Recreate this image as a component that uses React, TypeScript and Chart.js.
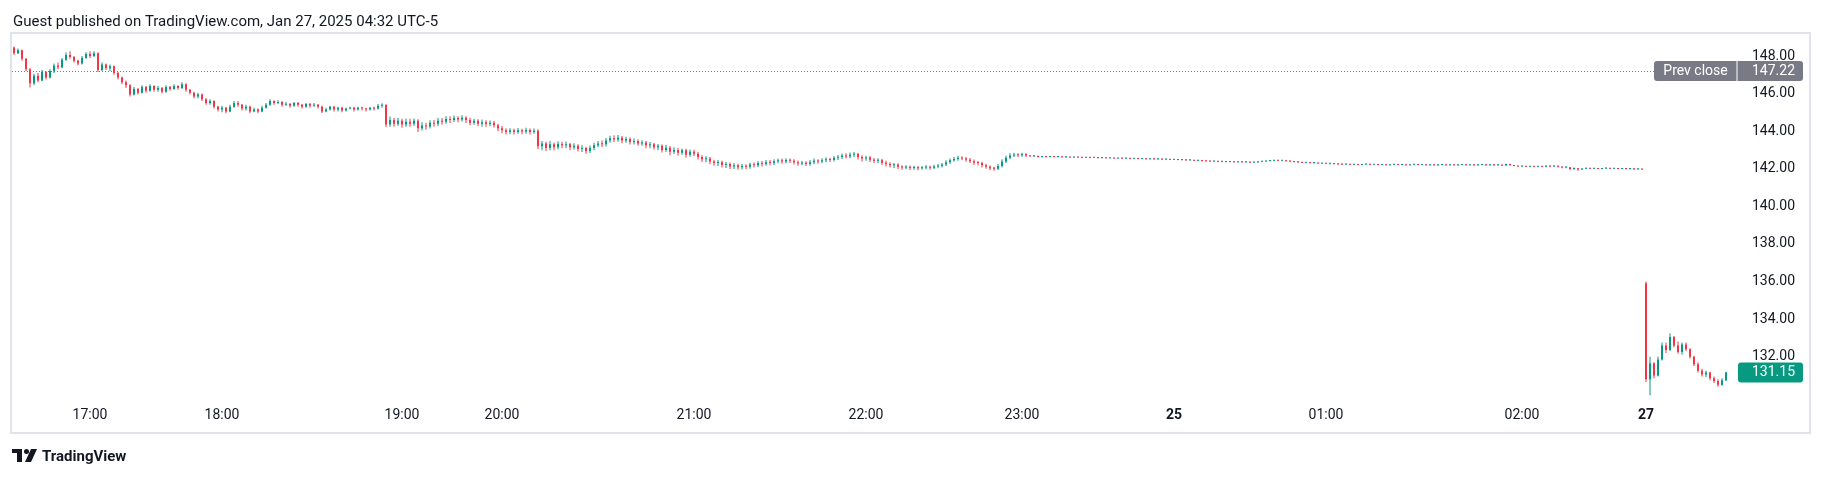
import { useEffect, useRef } from "react";
import { Chart, registerables } from "chart.js";

Chart.register(...registerables);

// ---- data (bar index = position on TradingView's compressed time axis) ----
const opens = [
  148.45, 148.15, 148.30, 147.85, 147.30, 146.55, 146.95, 146.70, 147.15, 146.85,
  147.20, 147.50, 147.40, 147.80, 148.05, 147.95, 147.75, 147.60, 147.90, 148.10,
  148.00, 148.15, 147.25, 147.55, 147.35, 147.45, 147.10, 146.85, 146.60, 146.45,
  145.95, 146.25, 146.05, 146.35, 146.15, 146.40, 146.20, 146.30, 146.10, 146.35,
  146.25, 146.40, 146.30, 146.50, 146.20, 146.05, 145.85, 145.95, 145.70, 145.50,
  145.60, 145.30, 145.15, 145.25, 145.05, 145.30, 145.50, 145.40, 145.20, 145.30,
  145.05, 145.15, 145.05, 145.25, 145.40, 145.60, 145.50, 145.55, 145.40, 145.45,
  145.35, 145.50, 145.40, 145.30, 145.45, 145.35, 145.40, 145.30, 145.05, 145.15,
  145.30, 145.15, 145.25, 145.10, 145.20, 145.25, 145.15, 145.25, 145.20, 145.15,
  145.25, 145.20, 145.35, 145.40, 144.35, 144.60, 144.40, 144.55, 144.35, 144.50,
  144.40, 144.55, 144.15, 144.30, 144.25, 144.45, 144.40, 144.55, 144.50, 144.65,
  144.60, 144.70, 144.62, 144.72, 144.60, 144.45, 144.55, 144.40, 144.48, 144.38,
  144.45, 144.32, 144.15, 144.05, 143.95, 144.05, 143.95, 144.05, 143.98, 144.06,
  143.95, 144.02, 143.20, 143.35, 143.10, 143.30, 143.15, 143.32, 143.25, 143.30,
  143.15, 143.22, 143.05, 143.10, 142.95, 143.10, 143.25, 143.35, 143.30, 143.50,
  143.62, 143.55, 143.65, 143.50, 143.58, 143.42, 143.48, 143.35, 143.40, 143.25,
  143.30, 143.15, 143.22, 143.00, 143.12, 142.90, 143.00, 142.85, 142.98, 142.75,
  142.90, 142.80, 142.62, 142.50, 142.55, 142.38, 142.30, 142.35, 142.20, 142.25,
  142.12, 142.18, 142.08, 142.15, 142.10, 142.22, 142.18, 142.30, 142.25, 142.35,
  142.30, 142.40, 142.45, 142.38, 142.46, 142.42, 142.35, 142.28, 142.32, 142.25,
  142.35, 142.42, 142.38, 142.45, 142.50, 142.46, 142.58, 142.62, 142.70, 142.65,
  142.75, 142.78, 142.62, 142.55, 142.60, 142.48, 142.42, 142.45, 142.32, 142.25,
  142.18, 142.22, 142.10, 142.06, 142.10, 142.04, 142.08, 142.02, 142.06, 142.10,
  142.05, 142.12, 142.15, 142.22, 142.35, 142.45, 142.52, 142.58, 142.55, 142.48,
  142.40, 142.32, 142.30, 142.18, 142.10, 142.02, 142.00, 142.15, 142.38, 142.58,
  142.70, 142.76, 142.72, 142.78, 142.70, 142.66, 142.68, 142.62, 142.65, 142.63,
  142.66, 142.62, 142.64, 142.61, 142.63, 142.60, 142.62, 142.60, 142.58, 142.61,
  142.59, 142.60, 142.57, 142.59, 142.56, 142.58, 142.55, 142.57, 142.55, 142.56,
  142.53, 142.55, 142.52, 142.54, 142.51, 142.53, 142.50, 142.52, 142.49, 142.51,
  142.48, 142.50, 142.47, 142.48, 142.45, 142.46, 142.43, 142.44, 142.41, 142.40,
  142.38, 142.40, 142.37, 142.39, 142.36, 142.38, 142.35, 142.37, 142.34, 142.36,
  142.33, 142.35, 142.37, 142.39, 142.41, 142.43, 142.44, 142.42, 142.43, 142.40,
  142.38, 142.36, 142.34, 142.32, 142.33, 142.30, 142.31, 142.28, 142.29, 142.26,
  142.27, 142.25, 142.24, 142.22, 142.24, 142.21, 142.23, 142.20, 142.22, 142.24,
  142.21, 142.23, 142.20, 142.22, 142.19, 142.21, 142.23, 142.20, 142.22, 142.19,
  142.21, 142.23, 142.20, 142.22, 142.19, 142.21, 142.18, 142.20, 142.22, 142.19,
  142.21, 142.18, 142.20, 142.22, 142.19, 142.21, 142.18, 142.20, 142.22, 142.19,
  142.21, 142.18, 142.20, 142.17, 142.25, 142.19, 142.15, 142.12, 142.14, 142.11,
  142.13, 142.10, 142.12, 142.10, 142.15, 142.12, 142.16, 142.11, 142.06, 142.08,
  141.98, 142.02, 141.96, 142.00, 142.03, 142.00, 142.02, 141.99, 142.01, 142.03,
  142.00, 142.02, 141.99, 142.01, 141.98, 142.00, 141.97, 141.99, 135.90, 130.80,
  131.65, 131.00, 131.85, 132.60, 132.35, 133.05, 132.60, 132.25, 132.65, 132.40,
  132.00, 131.60, 131.25, 131.05, 131.15, 130.85, 130.70, 130.50, 130.75,
];

const highs = [
  148.50, 148.40, 148.35, 147.90, 147.35, 147.05, 147.10, 147.25, 147.20, 147.30,
  147.60, 147.65, 147.90, 148.20, 148.25, 148.00, 147.80, 148.00, 148.20, 148.25,
  148.25, 148.20, 147.65, 147.60, 147.55, 147.50, 147.15, 146.90, 146.70, 146.50,
  146.35, 146.30, 146.45, 146.40, 146.50, 146.45, 146.40, 146.35, 146.45, 146.40,
  146.50, 146.45, 146.60, 146.55, 146.25, 146.10, 146.05, 146.00, 145.75, 145.70,
  145.65, 145.35, 145.35, 145.30, 145.40, 145.60, 145.60, 145.45, 145.40, 145.35,
  145.25, 145.20, 145.35, 145.50, 145.70, 145.65, 145.65, 145.60, 145.55, 145.50,
  145.55, 145.55, 145.45, 145.50, 145.50, 145.50, 145.45, 145.35, 145.25, 145.35,
  145.35, 145.30, 145.30, 145.25, 145.30, 145.30, 145.30, 145.30, 145.25, 145.30,
  145.30, 145.45, 145.48, 145.42, 144.78, 144.70, 144.72, 144.66, 144.68, 144.66,
  144.68, 144.63, 144.48, 144.45, 144.58, 144.60, 144.70, 144.70, 144.80, 144.80,
  144.84, 144.80, 144.85, 144.80, 144.72, 144.66, 144.63, 144.62, 144.58, 144.57,
  144.54, 144.40, 144.27, 144.16, 144.16, 144.13, 144.17, 144.13, 144.18, 144.14,
  144.14, 144.10, 143.48, 143.44, 143.47, 143.40, 143.46, 143.44, 143.45, 143.38,
  143.36, 143.30, 143.25, 143.17, 143.24, 143.38, 143.48, 143.50, 143.64, 143.76,
  143.78, 143.79, 143.74, 143.70, 143.66, 143.61, 143.57, 143.52, 143.48, 143.42,
  143.38, 143.32, 143.29, 143.26, 143.21, 143.14, 143.10, 143.08, 143.06, 143.03,
  143.01, 142.90, 142.72, 142.66, 142.63, 142.48, 142.46, 142.43, 142.36, 142.33,
  142.30, 142.26, 142.25, 142.24, 142.32, 142.33, 142.40, 142.41, 142.47, 142.46,
  142.51, 142.55, 142.54, 142.56, 142.55, 142.51, 142.44, 142.41, 142.40, 142.46,
  142.54, 142.51, 142.56, 142.61, 142.59, 142.68, 142.73, 142.81, 142.83, 142.86,
  142.89, 142.85, 142.72, 142.69, 142.68, 142.57, 142.56, 142.53, 142.42, 142.34,
  142.31, 142.29, 142.19, 142.18, 142.17, 142.16, 142.15, 142.14, 142.18, 142.16,
  142.21, 142.25, 142.31, 142.45, 142.55, 142.63, 142.69, 142.67, 142.63, 142.57,
  142.49, 142.41, 142.37, 142.27, 142.18, 142.11, 142.25, 142.50, 142.69, 142.82,
  142.85, 142.83, 142.85, 142.83, 142.72, 142.72, 142.70, 142.68, 142.67, 142.68,
  142.67, 142.66, 142.65, 142.65, 142.64, 142.64, 142.63, 142.62, 142.63, 142.62,
  142.62, 142.61, 142.61, 142.60, 142.60, 142.59, 142.59, 142.58, 142.58, 142.57,
  142.57, 142.56, 142.56, 142.55, 142.55, 142.54, 142.54, 142.53, 142.53, 142.52,
  142.52, 142.51, 142.50, 142.49, 142.48, 142.47, 142.46, 142.45, 142.43, 142.42,
  142.42, 142.41, 142.41, 142.40, 142.40, 142.39, 142.39, 142.38, 142.38, 142.37,
  142.37, 142.39, 142.41, 142.43, 142.45, 142.46, 142.46, 142.45, 142.44, 142.42,
  142.40, 142.38, 142.36, 142.35, 142.34, 142.33, 142.32, 142.31, 142.30, 142.29,
  142.28, 142.27, 142.26, 142.26, 142.25, 142.25, 142.24, 142.24, 142.26, 142.25,
  142.25, 142.24, 142.24, 142.23, 142.23, 142.25, 142.24, 142.24, 142.23, 142.23,
  142.25, 142.24, 142.24, 142.23, 142.23, 142.22, 142.22, 142.24, 142.23, 142.23,
  142.22, 142.22, 142.24, 142.23, 142.23, 142.22, 142.24, 142.25, 142.23, 142.24,
  142.22, 142.22, 142.21, 142.27, 142.26, 142.20, 142.16, 142.16, 142.15, 142.15,
  142.14, 142.14, 142.13, 142.18, 142.17, 142.18, 142.17, 142.12, 142.10, 142.09,
  142.06, 142.04, 142.03, 142.05, 142.04, 142.04, 142.03, 142.03, 142.05, 142.04,
  142.04, 142.03, 142.03, 142.02, 142.02, 142.01, 142.01, 142.00, 136.00, 132.00,
  131.70, 132.00, 132.75, 132.75, 133.25, 133.10, 132.80, 132.75, 132.75, 132.45,
  132.05, 131.70, 131.35, 131.25, 131.20, 130.95, 130.80, 130.85, 131.20,
];

const lows = [
  148.05, 148.10, 147.75, 147.20, 146.33, 146.45, 146.60, 146.65, 146.75, 146.80,
  147.10, 147.30, 147.35, 147.75, 147.85, 147.65, 147.50, 147.55, 147.85, 147.90,
  147.95, 147.15, 147.20, 147.25, 147.20, 147.00, 146.75, 146.50, 146.30, 145.85,
  145.90, 145.95, 146.00, 146.05, 146.10, 146.10, 146.10, 146.00, 146.05, 146.15,
  146.20, 146.20, 146.25, 146.10, 145.95, 145.75, 145.75, 145.60, 145.40, 145.40,
  145.20, 145.05, 145.00, 144.95, 145.00, 145.25, 145.30, 145.10, 145.10, 144.95,
  145.00, 144.95, 145.00, 145.20, 145.35, 145.40, 145.45, 145.30, 145.35, 145.25,
  145.30, 145.30, 145.20, 145.25, 145.25, 145.30, 145.20, 144.97, 145.00, 145.10,
  145.05, 145.05, 145.00, 145.05, 145.15, 145.05, 145.10, 145.10, 145.05, 145.10,
  145.10, 145.15, 145.25, 144.22, 144.24, 144.23, 144.29, 144.18, 144.24, 144.23,
  144.29, 143.95, 144.04, 144.08, 144.14, 144.24, 144.28, 144.34, 144.39, 144.44,
  144.49, 144.48, 144.52, 144.44, 144.31, 144.34, 144.26, 144.24, 144.23, 144.26,
  144.19, 143.99, 143.89, 143.82, 143.84, 143.82, 143.86, 143.84, 143.86, 143.82,
  143.86, 143.05, 142.99, 142.94, 142.99, 142.99, 143.04, 143.09, 143.09, 142.99,
  143.02, 142.92, 142.89, 142.80, 142.84, 142.99, 143.14, 143.16, 143.19, 143.39,
  143.42, 143.44, 143.36, 143.39, 143.29, 143.29, 143.22, 143.22, 143.09, 143.09,
  143.02, 142.99, 142.86, 142.89, 142.72, 142.79, 142.69, 142.74, 142.59, 142.64,
  142.66, 142.49, 142.36, 142.34, 142.24, 142.16, 142.14, 142.06, 142.04, 141.99,
  141.99, 141.95, 141.96, 141.97, 142.00, 142.06, 142.09, 142.12, 142.16, 142.18,
  142.20, 142.29, 142.26, 142.28, 142.30, 142.22, 142.16, 142.18, 142.14, 142.16,
  142.24, 142.26, 142.29, 142.34, 142.36, 142.38, 142.46, 142.52, 142.54, 142.56,
  142.62, 142.49, 142.39, 142.42, 142.36, 142.30, 142.29, 142.20, 142.12, 142.06,
  142.04, 141.99, 141.95, 141.97, 141.93, 141.95, 141.92, 141.94, 141.97, 141.95,
  141.98, 142.03, 142.07, 142.15, 142.27, 142.37, 142.43, 142.45, 142.37, 142.30,
  142.21, 142.17, 142.07, 142.00, 141.92, 141.90, 141.93, 142.07, 142.30, 142.50,
  142.63, 142.62, 142.64, 142.62, 142.62, 142.63, 142.60, 142.60, 142.60, 142.61,
  142.60, 142.60, 142.58, 142.59, 142.58, 142.58, 142.57, 142.56, 142.57, 142.56,
  142.57, 142.55, 142.55, 142.54, 142.54, 142.53, 142.53, 142.52, 142.52, 142.51,
  142.51, 142.50, 142.50, 142.49, 142.49, 142.48, 142.48, 142.47, 142.47, 142.46,
  142.46, 142.45, 142.44, 142.43, 142.42, 142.41, 142.40, 142.39, 142.37, 142.36,
  142.36, 142.35, 142.35, 142.34, 142.34, 142.33, 142.33, 142.32, 142.32, 142.31,
  142.31, 142.32, 142.35, 142.37, 142.39, 142.40, 142.40, 142.40, 142.38, 142.35,
  142.33, 142.31, 142.30, 142.29, 142.28, 142.27, 142.26, 142.25, 142.24, 142.23,
  142.22, 142.21, 142.20, 142.20, 142.19, 142.19, 142.18, 142.18, 142.20, 142.19,
  142.19, 142.18, 142.18, 142.17, 142.17, 142.19, 142.18, 142.18, 142.17, 142.17,
  142.19, 142.18, 142.18, 142.17, 142.17, 142.16, 142.16, 142.18, 142.17, 142.17,
  142.16, 142.16, 142.18, 142.17, 142.17, 142.16, 142.16, 142.18, 142.16, 142.17,
  142.15, 142.16, 142.15, 142.16, 142.17, 142.13, 142.10, 142.10, 142.09, 142.09,
  142.08, 142.08, 142.08, 142.08, 142.08, 142.10, 142.07, 142.02, 142.02, 141.92,
  141.95, 141.90, 141.94, 141.98, 141.98, 141.98, 141.97, 141.97, 141.99, 141.98,
  141.98, 141.97, 141.97, 141.96, 141.96, 141.95, 141.95, 141.94, 130.65, 129.95,
  130.85, 130.95, 131.80, 132.20, 132.30, 132.50, 132.15, 132.10, 132.30, 131.90,
  131.50, 131.15, 130.95, 130.90, 130.75, 130.60, 130.40, 130.45, 130.70,
];

const closes = [
  148.15, 148.30, 147.85, 147.30, 146.55, 146.95, 146.70, 147.15, 146.85, 147.20,
  147.50, 147.40, 147.80, 148.05, 147.95, 147.75, 147.60, 147.90, 148.10, 148.00,
  148.15, 147.25, 147.55, 147.35, 147.45, 147.10, 146.85, 146.60, 146.45, 145.95,
  146.25, 146.05, 146.35, 146.15, 146.40, 146.20, 146.30, 146.10, 146.35, 146.25,
  146.40, 146.30, 146.50, 146.20, 146.05, 145.85, 145.95, 145.70, 145.50, 145.60,
  145.30, 145.15, 145.25, 145.05, 145.30, 145.50, 145.40, 145.20, 145.30, 145.05,
  145.15, 145.05, 145.25, 145.40, 145.60, 145.50, 145.55, 145.40, 145.45, 145.35,
  145.50, 145.40, 145.30, 145.45, 145.35, 145.40, 145.30, 145.05, 145.15, 145.30,
  145.15, 145.25, 145.10, 145.20, 145.25, 145.15, 145.25, 145.20, 145.15, 145.25,
  145.20, 145.35, 145.40, 144.35, 144.60, 144.40, 144.55, 144.35, 144.50, 144.40,
  144.55, 144.15, 144.30, 144.25, 144.45, 144.40, 144.55, 144.50, 144.65, 144.60,
  144.70, 144.62, 144.72, 144.60, 144.45, 144.55, 144.40, 144.48, 144.38, 144.45,
  144.32, 144.15, 144.05, 143.95, 144.05, 143.95, 144.05, 143.98, 144.06, 143.95,
  144.02, 143.20, 143.35, 143.10, 143.30, 143.15, 143.32, 143.25, 143.30, 143.15,
  143.22, 143.05, 143.10, 142.95, 143.10, 143.25, 143.35, 143.30, 143.50, 143.62,
  143.55, 143.65, 143.50, 143.58, 143.42, 143.48, 143.35, 143.40, 143.25, 143.30,
  143.15, 143.22, 143.00, 143.12, 142.90, 143.00, 142.85, 142.98, 142.75, 142.90,
  142.80, 142.62, 142.50, 142.55, 142.38, 142.30, 142.35, 142.20, 142.25, 142.12,
  142.18, 142.08, 142.15, 142.10, 142.22, 142.18, 142.30, 142.25, 142.35, 142.30,
  142.40, 142.45, 142.38, 142.46, 142.42, 142.35, 142.28, 142.32, 142.25, 142.35,
  142.42, 142.38, 142.45, 142.50, 142.46, 142.58, 142.62, 142.70, 142.65, 142.75,
  142.78, 142.62, 142.55, 142.60, 142.48, 142.42, 142.45, 142.32, 142.25, 142.18,
  142.22, 142.10, 142.06, 142.10, 142.04, 142.08, 142.02, 142.06, 142.10, 142.05,
  142.12, 142.15, 142.22, 142.35, 142.45, 142.52, 142.58, 142.55, 142.48, 142.40,
  142.32, 142.30, 142.18, 142.10, 142.02, 142.00, 142.15, 142.38, 142.58, 142.70,
  142.76, 142.72, 142.78, 142.70, 142.66, 142.68, 142.62, 142.65, 142.63, 142.66,
  142.62, 142.64, 142.61, 142.63, 142.60, 142.62, 142.60, 142.58, 142.61, 142.59,
  142.60, 142.57, 142.59, 142.56, 142.58, 142.55, 142.57, 142.55, 142.56, 142.53,
  142.55, 142.52, 142.54, 142.51, 142.53, 142.50, 142.52, 142.49, 142.51, 142.48,
  142.50, 142.47, 142.48, 142.45, 142.46, 142.43, 142.44, 142.41, 142.40, 142.38,
  142.40, 142.37, 142.39, 142.36, 142.38, 142.35, 142.37, 142.34, 142.36, 142.33,
  142.35, 142.37, 142.39, 142.41, 142.43, 142.44, 142.42, 142.43, 142.40, 142.38,
  142.36, 142.34, 142.32, 142.33, 142.30, 142.31, 142.28, 142.29, 142.26, 142.27,
  142.25, 142.24, 142.22, 142.24, 142.21, 142.23, 142.20, 142.22, 142.24, 142.21,
  142.23, 142.20, 142.22, 142.19, 142.21, 142.23, 142.20, 142.22, 142.19, 142.21,
  142.23, 142.20, 142.22, 142.19, 142.21, 142.18, 142.20, 142.22, 142.19, 142.21,
  142.18, 142.20, 142.22, 142.19, 142.21, 142.18, 142.20, 142.22, 142.19, 142.21,
  142.18, 142.20, 142.17, 142.25, 142.19, 142.15, 142.12, 142.14, 142.11, 142.13,
  142.10, 142.12, 142.10, 142.15, 142.12, 142.16, 142.11, 142.06, 142.08, 141.98,
  142.02, 141.96, 142.00, 142.03, 142.00, 142.02, 141.99, 142.01, 142.03, 142.00,
  142.02, 141.99, 142.01, 141.98, 142.00, 141.97, 141.99, 141.96, 130.80, 131.65,
  131.00, 131.85, 132.60, 132.35, 133.05, 132.60, 132.25, 132.65, 132.40, 132.00,
  131.60, 131.25, 131.05, 131.15, 130.85, 130.70, 130.50, 130.75, 131.15,
];

const timeTickIndex = [19, 52, 97, 122, 170, 213, 252, 290, 328, 377, 408];
const timeTickLabels = ["17:00", "18:00", "19:00", "20:00", "21:00", "22:00", "23:00", "25", "01:00", "02:00", "27"];
const boldTickIndex = [290, 408];
const priceTicks = [132, 134, 136, 138, 140, 142, 144, 146, 148];
const prevClose = 147.22;
const lastPrice = 131.15;
const titleText = "Guest published on TradingView.com, Jan 27, 2025 04:32 UTC-5";

const UP = "#089981";
const DOWN = "#f23645";
const TEXT = "#131722";
const FONT = 'Roboto, "Noto Sans", "DejaVu Sans", sans-serif';

function rrect(ctx: CanvasRenderingContext2D, x: number, y: number, w: number, h: number, r: number) {
  ctx.beginPath();
  ctx.moveTo(x + r, y);
  ctx.lineTo(x + w - r, y);
  ctx.quadraticCurveTo(x + w, y, x + w, y + r);
  ctx.lineTo(x + w, y + h - r);
  ctx.quadraticCurveTo(x + w, y + h, x + w - r, y + h);
  ctx.lineTo(x + r, y + h);
  ctx.quadraticCurveTo(x, y + h, x, y + h - r);
  ctx.lineTo(x, y + r);
  ctx.quadraticCurveTo(x, y, x + r, y);
  ctx.closePath();
}

const overlay = {
  id: "tvOverlay",
  beforeDraw(chart: any) {
    const { ctx, width, height } = chart;
    ctx.save();
    ctx.fillStyle = "#ffffff";
    ctx.fillRect(0, 0, width, height);
    ctx.restore();
  },
  afterDraw(chart: any) {
    const { ctx, chartArea, scales } = chart;
    const ys = scales.y;
    ctx.save();

    // frame
    ctx.strokeStyle = "#e0e3eb";
    ctx.lineWidth = 2;
    ctx.strokeRect(11, 33, 1799, 400);

    // title
    ctx.fillStyle = TEXT;
    ctx.font = `15px ${FONT}`;
    ctx.textAlign = "left";
    ctx.textBaseline = "alphabetic";
    ctx.fillText(titleText, 13, 26);

    // previous close dotted line
    const py = Math.round(ys.getPixelForValue(prevClose)) + 0.5;
    ctx.strokeStyle = "#787b86";
    ctx.lineWidth = 1;
    ctx.setLineDash([1, 2]);
    ctx.beginPath();
    ctx.moveTo(chartArea.left, py);
    ctx.lineTo(1654, py);
    ctx.stroke();
    ctx.setLineDash([]);

    // prev close label
    ctx.fillStyle = "#787b86";
    rrect(ctx, 1654, py - 10.5, 149, 20, 3);
    ctx.fill();
    ctx.fillStyle = "#ffffff";
    ctx.fillRect(1736.5, py - 10.5, 1, 20);
    ctx.font = `14px ${FONT}`;
    ctx.textBaseline = "middle";
    ctx.textAlign = "center";
    ctx.fillText("Prev close", 1695.5, py);
    ctx.textAlign = "right";
    ctx.fillText(prevClose.toFixed(2), 1795, py);

    // last price label
    const ly = ys.getPixelForValue(lastPrice);
    ctx.fillStyle = UP;
    rrect(ctx, 1738, ly - 10, 65, 20, 3);
    ctx.fill();
    ctx.fillStyle = "#ffffff";
    ctx.textAlign = "right";
    ctx.fillText(lastPrice.toFixed(2), 1795, ly);

    // TradingView logo
    const lx = 12;
    const lt = 449;
    ctx.fillStyle = TEXT;
    ctx.fillRect(lx, lt, 10, 4);
    ctx.fillRect(lx + 5, lt, 5, 13);
    ctx.beginPath();
    ctx.arc(lx + 14.5, lt + 2.5, 2.5, 0, Math.PI * 2);
    ctx.fill();
    ctx.beginPath();
    ctx.moveTo(lx + 19, lt);
    ctx.lineTo(lx + 25, lt);
    ctx.lineTo(lx + 19, lt + 13);
    ctx.lineTo(lx + 13, lt + 13);
    ctx.closePath();
    ctx.fill();
    ctx.font = `bold 15px ${FONT}`;
    ctx.textAlign = "left";
    ctx.textBaseline = "alphabetic";
    ctx.fillText("TradingView", lx + 30, lt + 12);

    ctx.restore();
  },
};

export default function App() {
  const ref = useRef<HTMLCanvasElement>(null);

  useEffect(() => {
    document.body.style.margin = "0";
    const n = Math.min(opens.length, highs.length, lows.length, closes.length);
    const idx = Array.from({ length: n }, (_, i) => i);
    const colors = idx.map((i) => (closes[i] >= opens[i] ? UP : DOWN));

    const chart = new Chart(ref.current as HTMLCanvasElement, {
      type: "bar",
      data: {
        datasets: [
          {
            label: "wick",
            data: idx.map((i) => ({ x: i, y: [lows[i], highs[i]] })) as any,
            backgroundColor: colors,
            barThickness: 1,
            grouped: false,
            borderWidth: 0,
            inflateAmount: 0,
            order: 2,
          } as any,
          {
            label: "body",
            data: idx.map((i) => ({ x: i, y: [opens[i], closes[i]] })) as any,
            backgroundColor: colors,
            barThickness: 2,
            minBarLength: 1,
            grouped: false,
            borderWidth: 0,
            inflateAmount: 0,
            order: 1,
          } as any,
        ],
      },
      options: {
        responsive: false,
        animation: false,
        events: [],
        layout: { padding: { left: 12, right: 13, top: 34, bottom: 45 } },
        plugins: { legend: { display: false }, tooltip: { enabled: false } },
        scales: {
          x: {
            type: "linear",
            min: -0.5,
            max: 432.75,
            offset: false,
            grid: { display: false, drawTicks: false },
            border: { display: false },
            afterBuildTicks: (s: any) => {
              s.ticks = timeTickIndex.map((v) => ({ value: v }));
            },
            afterFit: (s: any) => {
              s.height = 33;
            },
            ticks: {
              autoSkip: false,
              maxRotation: 0,
              minRotation: 0,
              padding: 7,
              color: TEXT,
              font: (c: any) => ({
                family: FONT,
                size: 14,
                weight: c.tick && boldTickIndex.includes(c.tick.value) ? "bold" : "normal",
              }),
              callback: (v: any) => {
                const k = timeTickIndex.indexOf(Number(v));
                return k >= 0 ? timeTickLabels[k] : "";
              },
            },
          } as any,
          y: {
            type: "linear",
            position: "right",
            min: 129.693,
            max: 149.171,
            grid: { display: false, drawTicks: false },
            border: { display: false },
            afterBuildTicks: (s: any) => {
              s.ticks = priceTicks.map((v) => ({ value: v }));
            },
            afterFit: (s: any) => {
              s.width = 65;
            },
            ticks: {
              padding: 7,
              color: TEXT,
              font: { family: FONT, size: 14 },
              callback: (v: any) => Number(v).toFixed(2),
            },
          } as any,
        },
      },
      plugins: [overlay],
    });

    return () => chart.destroy();
  }, []);

  return (
    <div style={{ width: 1823, height: 478, background: "#ffffff" }}>
      <canvas ref={ref} width={1823} height={478} style={{ display: "block", width: 1823, height: 478 }} />
    </div>
  );
}
